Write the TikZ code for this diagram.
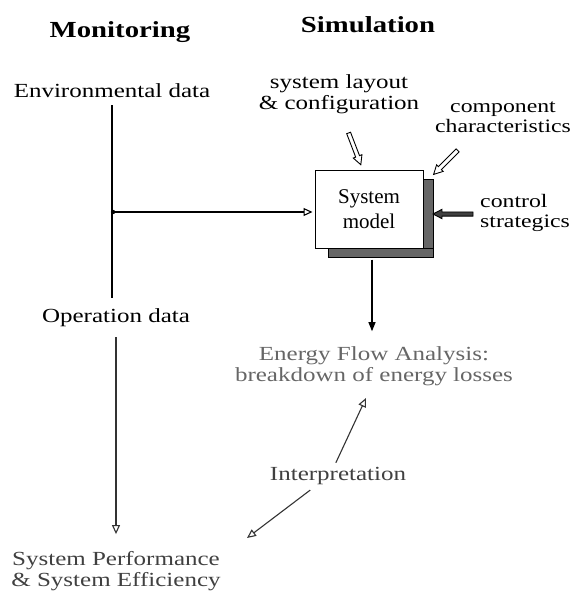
\documentclass[tikz,border=0pt]{standalone}
\usepackage{fontspec}
\setmainfont{Liberation Serif}
\newfontfamily\wfont[FakeStretch=1.25]{Liberation Serif}
\usetikzlibrary{arrows.meta,shapes.arrows}
\begin{document}
\begin{tikzpicture}[x=1pt,y=-1pt,
  lbl/.style={font=\wfont\fontsize{20}{21}\selectfont, inner sep=2pt, align=center},
  smlbl/.style={font=\wfont\fontsize{19}{20}\selectfont, inner sep=2pt},
  headlbl/.style={font=\wfont\bfseries\fontsize{23}{26}\selectfont, inner sep=0pt},
  conn/.style={line width=1.1pt},
  openarrow/.style={conn, -{Triangle[open,length=9pt,width=8pt,line width=1.1pt]}},
  fillarrow/.style={conn, -{Triangle[length=9pt,width=7pt]}},
  fatarrow/.style={single arrow, draw, line width=0.9pt, fill=white, inner sep=1.6pt,
    single arrow head extend=2.6pt, single arrow tip angle=55, minimum height=34pt},
  shadowfill/.style={fill=black!60, draw=black, line width=0.4pt},
  modelbox/.style={draw, line width=1pt, fill=white, minimum width=108pt, minimum height=78pt,
    font=\fontsize{21}{25}\selectfont, align=center, inner sep=0pt}
]
\useasboundingbox (0,0) rectangle (572,596);

% headings
\node[headlbl, anchor=base] (mon) at (120,38) {Monitoring};
\node[headlbl, anchor=base] (sim) at (368,33) {Simulation};

% monitoring column
\node[lbl, anchor=base] (env) at (112,98) {Environmental data};
\node[lbl, anchor=base] (op) at (116,322) {Operation data};
\node[lbl, text=black!75] (perf) at (116,571) {System Performance\\\& System Efficiency};

% simulation column
\node[lbl] (lay) at (339,94) {system layout\\\& configuration};
\node[smlbl, align=center] (comp) at (503,117) {component\\characteristics};
\node[smlbl, anchor=west, align=left] (ctrl) at (478,213) {control\\strategics};

\path[shadowfill] (423,179) rectangle (433,257);
\path[shadowfill] (328,248) rectangle (433,257);
\node[modelbox] (sys) at (369,209) {System\\model};

\node[lbl, text=black!60] (efa) at (374,366) {Energy Flow Analysis:\\breakdown of energy losses};
\node[lbl, text=black!75, anchor=base] (int) at (338,480) {Interpretation};

% input arrows to the model
\node[fatarrow, rotate=-69] (a1) at (354,147) {};
\node[fatarrow, rotate=-135] (a2) at (447,161) {};
\node[fatarrow, rotate=180, fill=black!75, minimum height=40pt] (a3) at (455,214) {};

% connectors
\coordinate (j) at (113,212);
\draw[conn, shorten <=5pt, shorten >=8pt] (env.south) -- (env.south |- op.north);
\fill (j) circle (2.2pt);
\draw[openarrow, shorten >=2pt] (j) -- (j -| sys.west);
\draw[openarrow, black!80, shorten <=9pt, shorten >=15pt] (op.south) -- (perf.north);
\draw[fillarrow, shorten <=11pt, shorten >=13pt] ([xshift=3pt]sys.south) -- ([xshift=3pt]sys.south |- efa.north);

\coordinate (t1) at (366,398);
\coordinate (t2) at (247,538);
\draw[openarrow, black!80, shorten <=2pt] ([xshift=-3pt]int.north) -- (t1);
\draw[openarrow, black!80, shorten <=6pt] ([xshift=-23pt]int.south) -- (t2);
\end{tikzpicture}
\end{document}
